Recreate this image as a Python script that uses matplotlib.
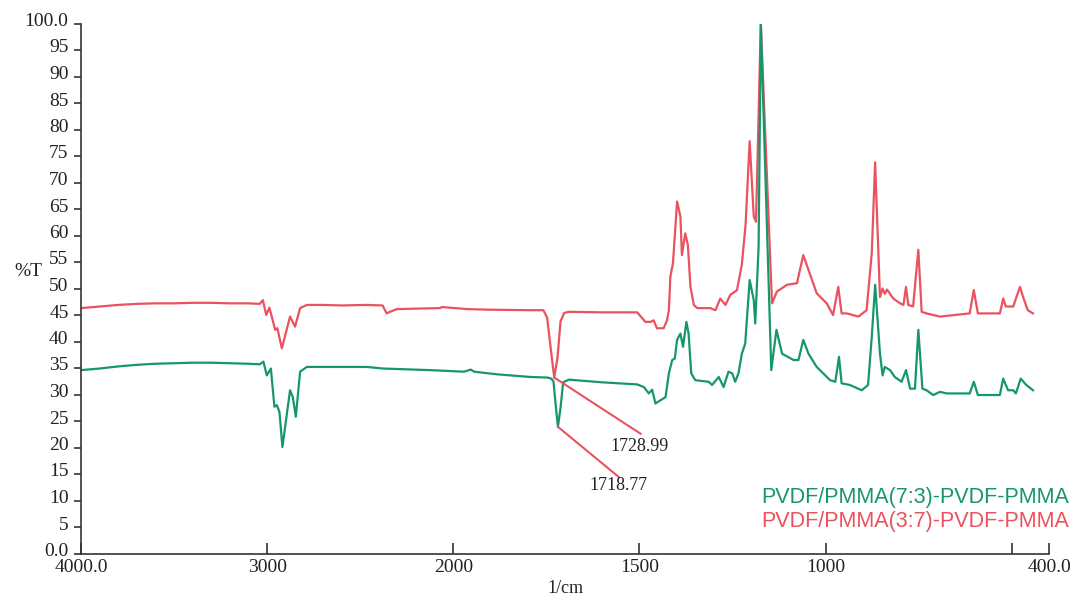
import numpy as np
import matplotlib
matplotlib.use("Agg")
import matplotlib.pyplot as plt
from matplotlib.transforms import ScaledTranslation

# ---------------- data ----------------
# PVDF/PMMA(3:7) (red)
wn_red = [4000, 3900, 3800, 3700, 3600, 3500, 3400, 3300, 3200, 3100, 3040, 3023, 3005, 2988,
          2957, 2945, 2921, 2877, 2850, 2823, 2787, 2700, 2600, 2465, 2380, 2358, 2340, 2305,
          2200, 2072, 2060, 1960, 1900, 1792, 1758, 1748, 1738, 1729, 1720, 1712, 1702, 1690,
          1600, 1506, 1484, 1470, 1462, 1453, 1435, 1426, 1421, 1417, 1410, 1399, 1390, 1386,
          1377, 1370, 1363, 1354, 1345, 1310, 1296, 1283, 1269, 1256, 1238, 1225, 1215, 1204,
          1193, 1187, 1174, 1144, 1131, 1104, 1077, 1060, 1046, 1024, 997, 980, 966, 957, 943,
          912, 890, 876, 867, 854, 847, 841, 835, 827, 818, 800, 791, 784, 778, 765, 751, 742,
          729, 693, 613, 602, 591, 532, 523, 516, 496, 487, 478, 470, 457, 443]
t_red = [46.3, 46.6, 46.9, 47.1, 47.2, 47.2, 47.3, 47.3, 47.2, 47.2, 47.1, 47.8, 45.0, 46.4,
         42.2, 42.5, 38.7, 44.7, 42.8, 46.3, 46.9, 46.9, 46.8, 46.9, 46.8, 45.3, 45.6, 46.1,
         46.2, 46.3, 46.5, 46.1, 46.0, 45.9, 45.9, 44.5, 38.5, 33.2, 37.0, 43.8, 45.4, 45.6,
         45.5, 45.5, 43.7, 43.7, 44.0, 42.5, 42.5, 44.0, 45.9, 52.2, 54.8, 66.4, 63.6, 56.3,
         60.4, 58.2, 50.3, 46.9, 46.3, 46.3, 45.9, 48.1, 46.9, 48.8, 49.7, 54.5, 62.0, 77.8,
         63.6, 62.6, 100.0, 47.2, 49.4, 50.7, 51.0, 56.3, 53.5, 49.1, 47.2, 45.0, 50.3, 45.3, 45.3,
         44.7, 45.9, 56.7, 73.8, 48.4, 50.0, 49.0, 49.8, 49.0, 48.1, 47.2, 46.9, 50.3, 46.9, 46.6, 57.3, 45.6,
         45.3, 44.7, 45.3, 49.7, 45.3, 45.3, 48.1, 46.6, 46.6, 48.5, 50.3, 48.5, 45.9, 45.3]

# PVDF/PMMA(7:3) (green)
wn_green = [4000, 3900, 3800, 3700, 3600, 3500, 3400, 3300, 3200, 3100, 3040, 3020, 3002, 2980,
            2961, 2948, 2934, 2918, 2877, 2862, 2846, 2823, 2787, 2600, 2465, 2376, 2126, 1971,
            1953, 1944, 1881, 1792, 1747, 1737, 1731, 1725, 1719, 1712, 1705, 1690, 1600, 1506,
            1488, 1475, 1466, 1457, 1444, 1430, 1421, 1412, 1405, 1399, 1390, 1383, 1374, 1368,
            1361, 1350, 1314, 1305, 1287, 1274, 1261, 1251, 1243, 1234, 1225, 1216, 1204, 1193,
            1189, 1180, 1174, 1146, 1132, 1117, 1086, 1073, 1060, 1046, 1024, 988, 974, 964, 957,
            935, 903, 886, 876, 867, 854, 847, 841, 827, 814, 796, 784, 773, 760, 751, 740, 729,
            711, 693, 675, 613, 602, 591, 532, 523, 510, 496, 489, 476, 461, 443]
t_green = [34.6, 34.9, 35.3, 35.6, 35.8, 35.9, 36.0, 36.0, 35.9, 35.8, 35.7, 36.2, 33.6, 34.9,
           27.7, 28.0, 26.7, 20.1, 30.8, 29.5, 25.8, 34.3, 35.2, 35.2, 35.2, 34.9, 34.6, 34.3,
           34.7, 34.3, 33.8, 33.3, 33.2, 33.0, 32.5, 28.0, 23.9, 27.5, 32.3, 32.8, 32.3, 31.9,
           31.4, 30.2, 30.9, 28.3, 28.9, 29.5, 34.0, 36.5, 36.8, 40.3, 41.5, 39.0, 43.7, 41.5,
           34.0, 32.7, 32.4, 31.8, 33.3, 31.4, 34.3, 34.0, 32.4, 34.0, 37.7, 39.6, 51.6, 47.8,
           43.4, 57.9, 100.0, 34.6, 42.2, 37.7, 36.5, 36.5, 40.3, 37.7, 35.2, 32.7, 32.4, 37.1, 32.1,
           31.8, 30.8, 31.8, 40.9, 50.7, 37.7, 33.6, 35.2, 34.6, 33.3, 32.4, 34.6, 31.1, 31.1, 42.2, 31.1, 30.8,
           29.9, 30.5, 30.2, 30.2, 32.4, 29.9, 29.9, 33.0, 30.8, 30.8, 30.2, 33.0, 31.8, 30.8]

x_ticks = [4000, 3000, 2000, 1500, 1000, 500, 400]
x_ticklabels = ["4000.0", "3000", "2000", "1500", "1000", "", "400.0"]
y_ticks = list(range(0, 101, 5))
y_ticklabels = ["0.0"] + [str(v) for v in range(5, 100, 5)] + ["100.0"]

peak_labels = ["1728.99", "1718.77"]
peak_points = [(1729, 33.2), (1719, 23.9)]
label_points = [(1497, 22.6), (1555, 14.4)]
text_points = [(1500, 20.2), (1556, 12.9)]

legend_labels = ["PVDF/PMMA(7:3)-PVDF-PMMA", "PVDF/PMMA(3:7)-PVDF-PMMA"]

RED = "#e9525e"
GREEN = "#16976a"
AXC = "#333333"
SERIF = ["Liberation Serif", "DejaVu Serif"]

# ---------------- figure ----------------
fig = plt.figure(figsize=(10.75, 5.99), dpi=100)
ax = fig.add_axes([81 / 1075, 1 - 553.5 / 599, (1049 - 81) / 1075, 530 / 599])


def fwd(w):
    w = np.asarray(w, dtype=float)
    return np.where(w > 2000, 2000 + (w - 2000) / 2.0, w)


def inv(u):
    u = np.asarray(u, dtype=float)
    return np.where(u > 2000, 2000 + (u - 2000) * 2.0, u)


ax.set_xscale("function", functions=(fwd, inv))
ax.plot(wn_red, t_red, color=RED, lw=1.6, solid_joinstyle="round")
ax.plot(wn_green, t_green, color=GREEN, lw=1.6, solid_joinstyle="round")

ax.set_xlim(4000, 400)
ax.set_ylim(0, 100)

for s in ["top", "right"]:
    ax.spines[s].set_visible(False)
for s in ["left", "bottom"]:
    ax.spines[s].set_color(AXC)
    ax.spines[s].set_linewidth(1.2)

ax.set_xticks(x_ticks)
ax.set_xticklabels(x_ticklabels)
ax.xaxis.set_minor_locator(matplotlib.ticker.NullLocator())
ax.set_yticks(y_ticks)
ax.set_yticklabels(y_ticklabels)
ax.tick_params(axis="x", direction="in", length=8, width=1.2, color=AXC, pad=4,
               labelsize=14, labelcolor="#222222")
ax.tick_params(axis="y", direction="out", length=5, width=1.2, color=AXC, pad=4,
               labelsize=14, labelcolor="#222222")
for lab in ax.get_xticklabels() + ax.get_yticklabels():
    lab.set_fontfamily(SERIF)
off = ScaledTranslation(0, 4 / 100, fig.dpi_scale_trans)
for lab in ax.get_yticklabels():
    lab.set_transform(lab.get_transform() + off)

ax.set_xlabel("1/cm", fontsize=13, family=SERIF, color="#222222", labelpad=3)
fig.text(28 / 1075, 1 - 272 / 599, "%T", fontsize=14, family=SERIF, color="#222222",
         ha="center", va="center")

# annotations
for lab, p, q, t in zip(peak_labels, peak_points, label_points, text_points):
    ax.plot([p[0], q[0]], [p[1], q[1]], color=RED, lw=1.5)
    ax.text(t[0], t[1], lab, fontsize=13, family=SERIF, color="#222222",
            ha="center", va="center")

# legend text
fig.text(1069 / 1075, 1 - 497 / 599, legend_labels[0], color=GREEN, fontsize=15.5,
         family=["Liberation Sans", "DejaVu Sans"], ha="right", va="center")
fig.text(1069 / 1075, 1 - 521 / 599, legend_labels[1], color=RED, fontsize=15.5,
         family=["Liberation Sans", "DejaVu Sans"], ha="right", va="center")

fig.savefig("out.png", dpi=100)
